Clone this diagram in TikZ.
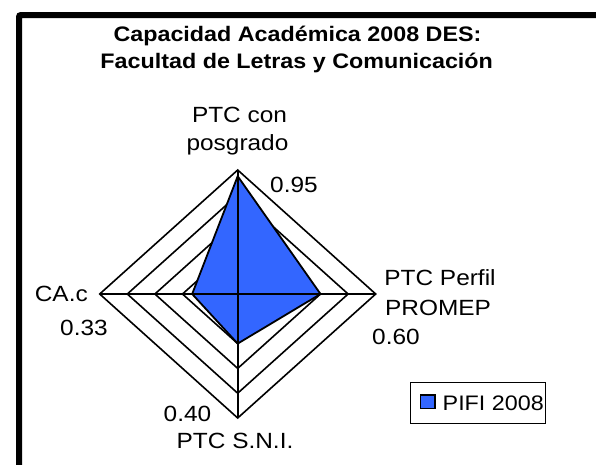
\documentclass[tikz,border=0pt]{standalone}
\usepackage{fontspec}
\setmainfont[FakeStretch=1.11]{Liberation Sans}
\definecolor{serie}{HTML}{3366FF}
\begin{document}
\begin{tikzpicture}[x=1pt,y=-1pt,
  lbl/.style={inner sep=0pt,anchor=base,font=\fontsize{22}{26}\selectfont},
  ttl/.style={inner sep=0pt,anchor=base,font=\fontsize{21}{26}\selectfont\bfseries},
  ring/.style={draw=black,line width=1.6pt,line join=miter},
  serpoly/.style={fill=serie,draw=black,line width=1.8pt,line join=miter},
  axisline/.style={draw=black,line width=1.6pt},
  legbox/.style={draw=black,line width=1.5pt,fill=white},
  legkey/.style={draw=black,line width=1.3pt,fill=serie},
  legtxt/.style={inner sep=0pt,anchor=base west,font=\fontsize{21}{26}\selectfont}
  ]
\useasboundingbox (0,0) rectangle (596,464);
\fill[white] (0,0) rectangle (596,464);
\begin{scope}
  \clip (0,0) rectangle (596,464);
  \draw[line width=6pt,rounded corners=2pt] (19,15) rectangle (640,500);
\end{scope}
% title
\node[ttl] (t1) at (297.5,41.7) {Capacidad Académica 2008 DES:};
\node[ttl] (t2) at (296.7,68.3) {Facultad de Letras y Comunicación};
% radar
\begin{scope}[shift={(237.7,294)}]
  \coordinate (ctr) at (0,0);
  \foreach \r in {0.2,0.4,0.6,0.8,1.0}
    \draw[ring] (0,{-124*\r}) -- ({138*\r},0) -- (0,{124*\r}) -- ({-138*\r},0) -- cycle;
  \coordinate (aT) at (0,-124);
  \coordinate (aB) at (0,124);
  \coordinate (aL) at (-138,0);
  \coordinate (aR) at (138,0);
  \draw[serpoly] (0,{-124*0.95}) -- ({138*0.60},0) -- (0,{124*0.40}) -- ({-138*0.33},0) -- cycle;
  \draw[axisline] (aT) -- (aB);
  \draw[axisline] (aL) -- (aR);
\end{scope}
% labels
\node[lbl] (p1) at (239.5,122) {PTC con};
\node[lbl] (p2) at (237.5,150) {posgrado};
\node[lbl] (v1) at (294,192.7) {0.95};
\node[lbl] (r1) at (440,285) {PTC Perfil};
\node[lbl] (r2) at (438,315) {PROMEP};
\node[lbl] (v2) at (396,344) {0.60};
\node[lbl] (l1) at (61.3,301.7) {CA.c};
\node[lbl] (v4) at (84,335) {0.33};
\node[lbl] (v3) at (187.5,421.7) {0.40};
\node[lbl] (b1) at (235,448) {PTC S.N.I.};
% legend
\draw[legbox] (410.7,382.3) rectangle (545.7,423.3);
\draw[legkey] (420.7,395) rectangle (435,408.3);
\node[legtxt] (lg) at (442.5,410) {PIFI 2008};
\end{tikzpicture}
\end{document}
